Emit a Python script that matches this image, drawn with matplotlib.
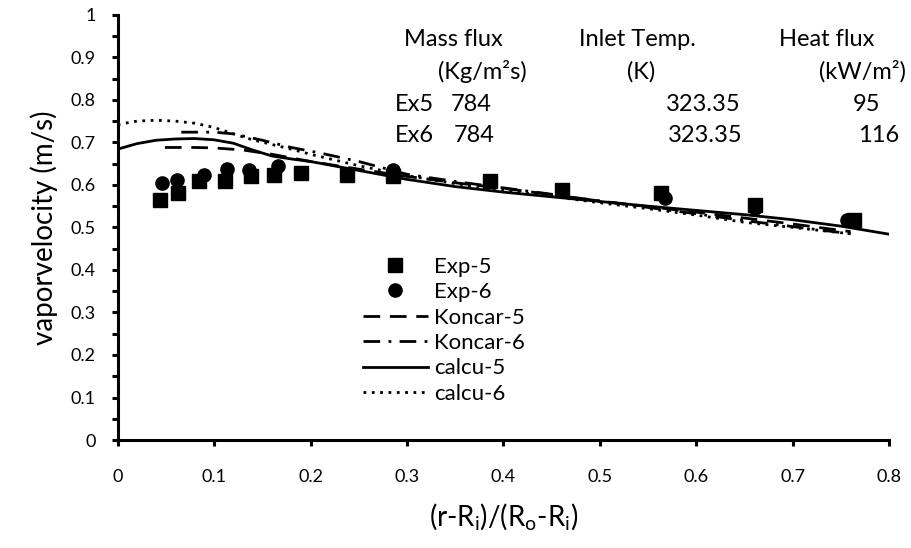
import numpy as np
import matplotlib
matplotlib.use('Agg')
import matplotlib.pyplot as plt
from matplotlib.ticker import MultipleLocator

plt.rcParams['font.family'] = ['Lato', 'DejaVu Sans']
plt.rcParams['mathtext.fontset'] = 'custom'
plt.rcParams['mathtext.rm'] = 'Lato'

# experimental points
exp5_x = [0.044, 0.063, 0.084, 0.111, 0.138, 0.162, 0.190, 0.238, 0.286, 0.386, 0.461, 0.563, 0.661, 0.763]
exp5_y = [0.565, 0.582, 0.608, 0.608, 0.620, 0.624, 0.627, 0.624, 0.620, 0.608, 0.588, 0.580, 0.553, 0.518]
exp6_x = [0.046, 0.062, 0.090, 0.113, 0.136, 0.166, 0.286, 0.568, 0.661, 0.756]
exp6_y = [0.604, 0.612, 0.624, 0.637, 0.634, 0.645, 0.634, 0.569, 0.545, 0.518]

# Koncar model
koncar5_x = [0.049, 0.08, 0.10, 0.13, 0.16, 0.20, 0.25, 0.30, 0.35, 0.40, 0.45, 0.50, 0.55, 0.60, 0.65, 0.70, 0.76]
koncar5_y = [0.688, 0.688, 0.687, 0.682, 0.672, 0.655, 0.637, 0.620, 0.605, 0.592, 0.577, 0.562, 0.549, 0.536, 0.522, 0.508, 0.490]
koncar6_x = [0.066, 0.10, 0.12, 0.15, 0.18, 0.21, 0.25, 0.30, 0.35, 0.40, 0.45, 0.50, 0.55, 0.60, 0.65, 0.70, 0.76]
koncar6_y = [0.724, 0.724, 0.720, 0.705, 0.688, 0.675, 0.655, 0.625, 0.608, 0.593, 0.578, 0.562, 0.547, 0.532, 0.516, 0.502, 0.485]

# calculated
calc5_x = [0, 0.02, 0.04, 0.06, 0.08, 0.10, 0.12, 0.14, 0.16, 0.18, 0.20, 0.25, 0.30, 0.35, 0.40,
           0.45, 0.50, 0.55, 0.60, 0.65, 0.70, 0.75, 0.80]
calc5_y = [0.684, 0.697, 0.705, 0.708, 0.709, 0.706, 0.698, 0.682, 0.668, 0.661, 0.655, 0.634, 0.613,
           0.596, 0.583, 0.572, 0.561, 0.550, 0.540, 0.530, 0.518, 0.503, 0.484]
calc6_x = [0, 0.02, 0.04, 0.06, 0.08, 0.10, 0.12, 0.14, 0.16, 0.18, 0.20, 0.25, 0.30, 0.35, 0.40,
           0.45, 0.50, 0.55, 0.60, 0.65, 0.70, 0.76]
calc6_y = [0.742, 0.750, 0.752, 0.750, 0.745, 0.735, 0.720, 0.706, 0.695, 0.684, 0.672, 0.645, 0.622,
           0.603, 0.587, 0.573, 0.558, 0.544, 0.529, 0.512, 0.500, 0.485]

fig = plt.figure(figsize=(9.12, 5.48), dpi=100)
ax = fig.add_axes([0.129, 0.197, 0.846, 0.776])

ax.plot(exp5_x, exp5_y, 's', color='black', markersize=9.5, label='Exp-5')
ax.plot(exp6_x, exp6_y, 'o', color='black', markersize=9.5, label='Exp-6')
ax.plot(koncar5_x, koncar5_y, color='black', lw=2, dashes=(6, 3.5), label='Koncar-5')
ax.plot(koncar6_x, koncar6_y, color='black', lw=2, dashes=(6, 3, 1, 3), label='Koncar-6')
ax.plot(calc5_x, calc5_y, color='black', lw=2, label='calcu-5')
ax.plot(calc6_x, calc6_y, color='black', lw=2, dashes=(1, 2), label='calcu-6')

ax.set_xlim(0, 0.8)
ax.set_ylim(0, 1)
ax.yaxis.set_minor_locator(MultipleLocator(0.05))
ax.set_xticks(np.arange(0, 0.81, 0.1))
ax.set_xticklabels(['0', '0.1', '0.2', '0.3', '0.4', '0.5', '0.6', '0.7', '0.8'])
ax.set_yticks(np.arange(0, 1.01, 0.1))
ax.set_yticklabels(['0', '0.1', '0.2', '0.3', '0.4', '0.5', '0.6', '0.7', '0.8', '0.9', '1'])

for s in ['top', 'right']:
    ax.spines[s].set_visible(False)
for s in ['left', 'bottom']:
    ax.spines[s].set_linewidth(2.2)
ax.tick_params(axis='both', which='both', direction='out', width=2.2, length=4, labelsize=13)
ax.tick_params(axis='x', pad=17)
ax.tick_params(axis='y', pad=12)

ax.set_xlabel('(r-R$_\\mathregular{i}$)/(R$_\\mathregular{o}$-R$_\\mathregular{i}$)', fontsize=20, labelpad=12)
ax.set_ylabel('vaporvelocity (m/s)', fontsize=20, labelpad=9)

# condition table
ts = 17
ax.text(0.348, 0.941, 'Mass flux', fontsize=ts, ha='center', va='center')
ax.text(0.378, 0.866, '(Kg/m\u00b2s)', fontsize=ts, ha='center', va='center')
ax.text(0.539, 0.941, 'Inlet Temp.', fontsize=ts, ha='center', va='center')
ax.text(0.543, 0.866, '(K)', fontsize=ts, ha='center', va='center')
ax.text(0.735, 0.941, 'Heat flux', fontsize=ts, ha='center', va='center')
ax.text(0.772, 0.866, '(kW/m\u00b2)', fontsize=ts, ha='center', va='center')
ax.text(0.287, 0.79, 'Ex5', fontsize=ts, ha='left', va='center')
ax.text(0.367, 0.79, '784', fontsize=ts, ha='center', va='center')
ax.text(0.607, 0.79, '323.35', fontsize=ts, ha='center', va='center')
ax.text(0.776, 0.79, '95', fontsize=ts, ha='center', va='center')
ax.text(0.287, 0.715, 'Ex6', fontsize=ts, ha='left', va='center')
ax.text(0.370, 0.715, '784', fontsize=ts, ha='center', va='center')
ax.text(0.609, 0.715, '323.35', fontsize=ts, ha='center', va='center')
ax.text(0.789, 0.715, '116', fontsize=ts, ha='center', va='center')

fig.legend(loc='upper left', bbox_to_anchor=(0.386, 0.552), frameon=False, fontsize=16,
           borderpad=0, labelspacing=0.245, handlelength=2.9, handletextpad=0.3)

fig.savefig('out.png', dpi=100)
